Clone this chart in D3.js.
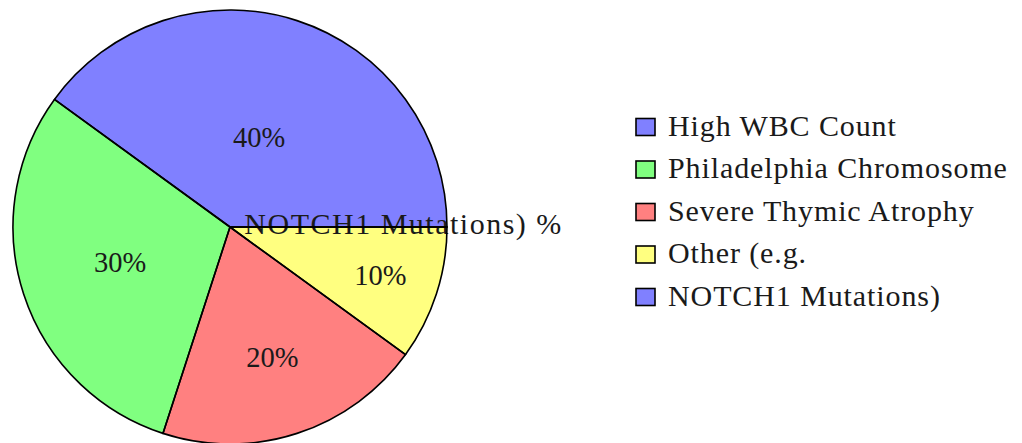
<!DOCTYPE html>
<html>
<head>
<meta charset="utf-8">
<script src="https://cdn.jsdelivr.net/npm/d3@7"></script>
<style>
  html, body { margin: 0; padding: 0; background: #ffffff; }
  svg { display: block; }
</style>
</head>
<body>
<svg id="chart" width="1022" height="443"></svg>
<script>
// ---- data ----
const categories = ["High WBC Count", "Philadelphia Chromosome", "Severe Thymic Atrophy", "Other (e.g.", "NOTCH1 Mutations)"];
const values = [40, 30, 20, 10, 0];
const sliceLabels = ["40%", "30%", "20%", "10%", "NOTCH1 Mutations) %"];
const colors = ["#8080ff", "#80ff80", "#ff8080", "#ffff80", "#8080ff"];

// ---- layout ----
const svg = d3.select("#chart");
const cx = 230, cy = 227, R = 217;
const serif = "Liberation Serif";

const pie = d3.pie()
  .sort(null)
  .value(d => d)
  .startAngle(Math.PI / 2)
  .endAngle(Math.PI / 2 - 2 * Math.PI);

const arcs = pie(values);
const arc = d3.arc().innerRadius(0).outerRadius(R);

const g = svg.append("g").attr("transform", `translate(${cx},${cy})`);

g.selectAll("path.fill")
  .data(arcs)
  .join("path")
  .attr("class", "fill")
  .attr("d", arc)
  .attr("fill", (d, i) => colors[i])
  .attr("stroke", "none");

function innerPos(d) {
  const span = Math.abs(d.endAngle - d.startAngle) * 180 / Math.PI;
  const t = Math.min((span - 10) / 110 * (-0.3), 0);
  return Math.max(t, -0.5) + 0.8;
}
g.selectAll("text.lab")
  .data(arcs)
  .join("text")
  .attr("class", "lab")
  .style("font-family", serif)
  .attr("fill", "#1a1a1a")
  .attr("text-anchor", "middle")
  .style("font-size", (d, i) => (i === 4 ? 30 : 28.5) + "px")
  .style("letter-spacing", (d, i) => (i === 4 ? 1.5 : 0) + "px")
  .attr("x", d => {
    const a = (d.startAngle + d.endAngle) / 2;
    return innerPos(d) * R * Math.sin(a);
  })
  .attr("y", (d, i) => {
    const a = (d.startAngle + d.endAngle) / 2;
    return -innerPos(d) * R * Math.cos(a) + (i === 4 ? 7 : 9.5);
  })
  .text((d, i) => sliceLabels[i]);

g.selectAll("path.edge")
  .data(arcs)
  .join("path")
  .attr("class", "edge")
  .attr("d", arc)
  .attr("fill", "none")
  .attr("stroke", "#000")
  .attr("stroke-width", 1.6)
  .attr("stroke-linejoin", "round");

// ---- legend ----
const yScale = d3.scalePoint().domain(d3.range(categories.length)).range([127, 297]);
const legend = svg.append("g");
const rows = legend.selectAll("g.row")
  .data(categories)
  .join("g")
  .attr("class", "row")
  .attr("transform", (d, i) => `translate(636,${yScale(i)})`);

rows.append("rect")
  .attr("x", 0)
  .attr("y", -8.5)
  .attr("width", 19)
  .attr("height", 17)
  .attr("fill", (d, i) => colors[i])
  .attr("stroke", "#000")
  .attr("stroke-width", 1.6);

rows.append("text")
  .style("font-family", serif)
  .attr("fill", "#1a1a1a")
  .attr("x", 32)
  .attr("y", 8.5)
  .style("font-size", "30px")
  .style("letter-spacing", "0.9px")
  .text(d => d);
</script>
</body>
</html>
